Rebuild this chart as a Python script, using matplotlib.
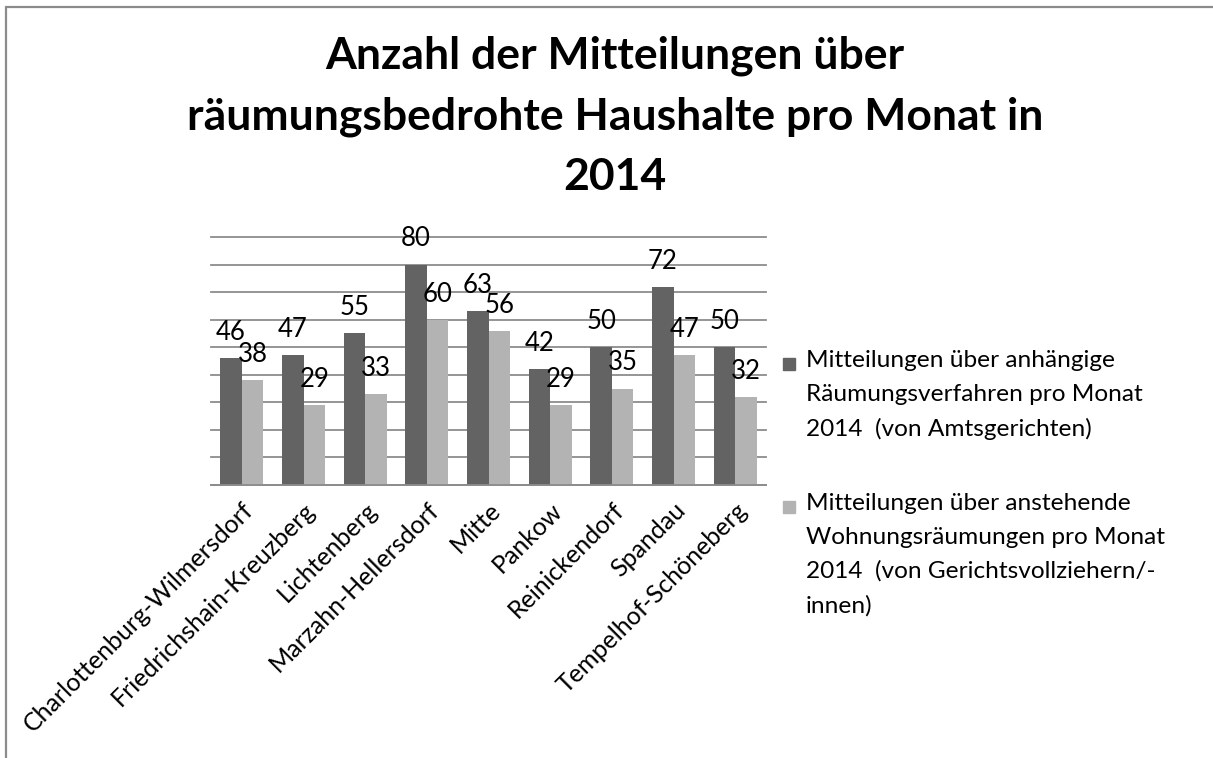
import matplotlib.pyplot as plt
import numpy as np
from matplotlib.patches import Rectangle

plt.rcParams['font.family'] = ['Lato', 'DejaVu Sans']

# Daten
bezirke = ["Charlottenburg-Wilmersdorf", "Friedrichshain-Kreuzberg", "Lichtenberg",
           "Marzahn-Hellersdorf", "Mitte", "Pankow", "Reinickendorf", "Spandau",
           "Tempelhof-Schöneberg"]
anhaengig = [46, 47, 55, 80, 63, 42, 50, 72, 50]
anstehend = [38, 29, 33, 60, 56, 29, 35, 47, 32]
serien = [
    "Mitteilungen über anhängige\nRäumungsverfahren pro Monat\n2014  (von Amtsgerichten)",
    "Mitteilungen über anstehende\nWohnungsräumungen pro Monat\n2014  (von Gerichtsvollziehern/-\ninnen)",
]
titel = "Anzahl der Mitteilungen über\nräumungsbedrohte Haushalte pro Monat in\n2014"

farben = ["#636363", "#b3b3b3"]
W, H = 1213, 758

fig = plt.figure(figsize=(W / 100, H / 100), dpi=100)
ax = fig.add_axes([211 / W, 1 - 485 / H, (766 - 211) / W, (485 - 237) / H])

x = np.arange(len(bezirke))
w = 0.35
b1 = ax.bar(x - w / 2, anhaengig, w, color=farben[0])
b2 = ax.bar(x + w / 2, anstehend, w, color=farben[1])

for bars, werte in [(b1, anhaengig), (b2, anstehend)]:
    for rect, v in zip(bars, werte):
        ax.annotate(str(v), (rect.get_x() + rect.get_width() / 2, v),
                    xytext=(0, 13), textcoords="offset points",
                    ha="center", va="baseline", fontsize=18.5)

ax.set_xlim(-0.5, len(bezirke) - 0.5)
ax.set_ylim(0, 90)
ax.set_yticks(range(0, 91, 10))
ax.yaxis.grid(True, color="#8c8c8c", lw=1.3)
for gl in ax.get_ygridlines():
    gl.set_clip_on(False)
ax.set_axisbelow(True)
for s in ["left", "right", "top"]:
    ax.spines[s].set_visible(False)
ax.spines["bottom"].set_color("#8c8c8c")
ax.spines["bottom"].set_linewidth(1.3)
ax.tick_params(left=False, labelleft=False, bottom=False, pad=6)
ax.set_xticks(x)
ax.set_xticklabels(bezirke, rotation=45, ha="right", rotation_mode="anchor",
                   fontsize=18)

fig.text(615 / W, 1 - 36 / H, titel, ha="center", va="top",
         fontsize=32, fontweight="bold", linespacing=1.6)

# Legende
legend_y = [364, 507]
for farbe, text, yy in zip(farben, serien, legend_y):
    fig.add_artist(Rectangle((783 / W, 1 - (yy + 6) / H), 12 / W, 12 / H,
                             transform=fig.transFigure, color=farbe))
    fig.text(806 / W, 1 - (yy - 14) / H, text, ha="left", va="top",
             fontsize=17.6, linespacing=1.74)

fig.add_artist(Rectangle((6 / W, -0.05), 1.2, 1.05 - 7 / H,
                         transform=fig.transFigure, fill=False,
                         edgecolor="#8c8c8c", lw=1.6))

fig.savefig("out.png", dpi=100)
